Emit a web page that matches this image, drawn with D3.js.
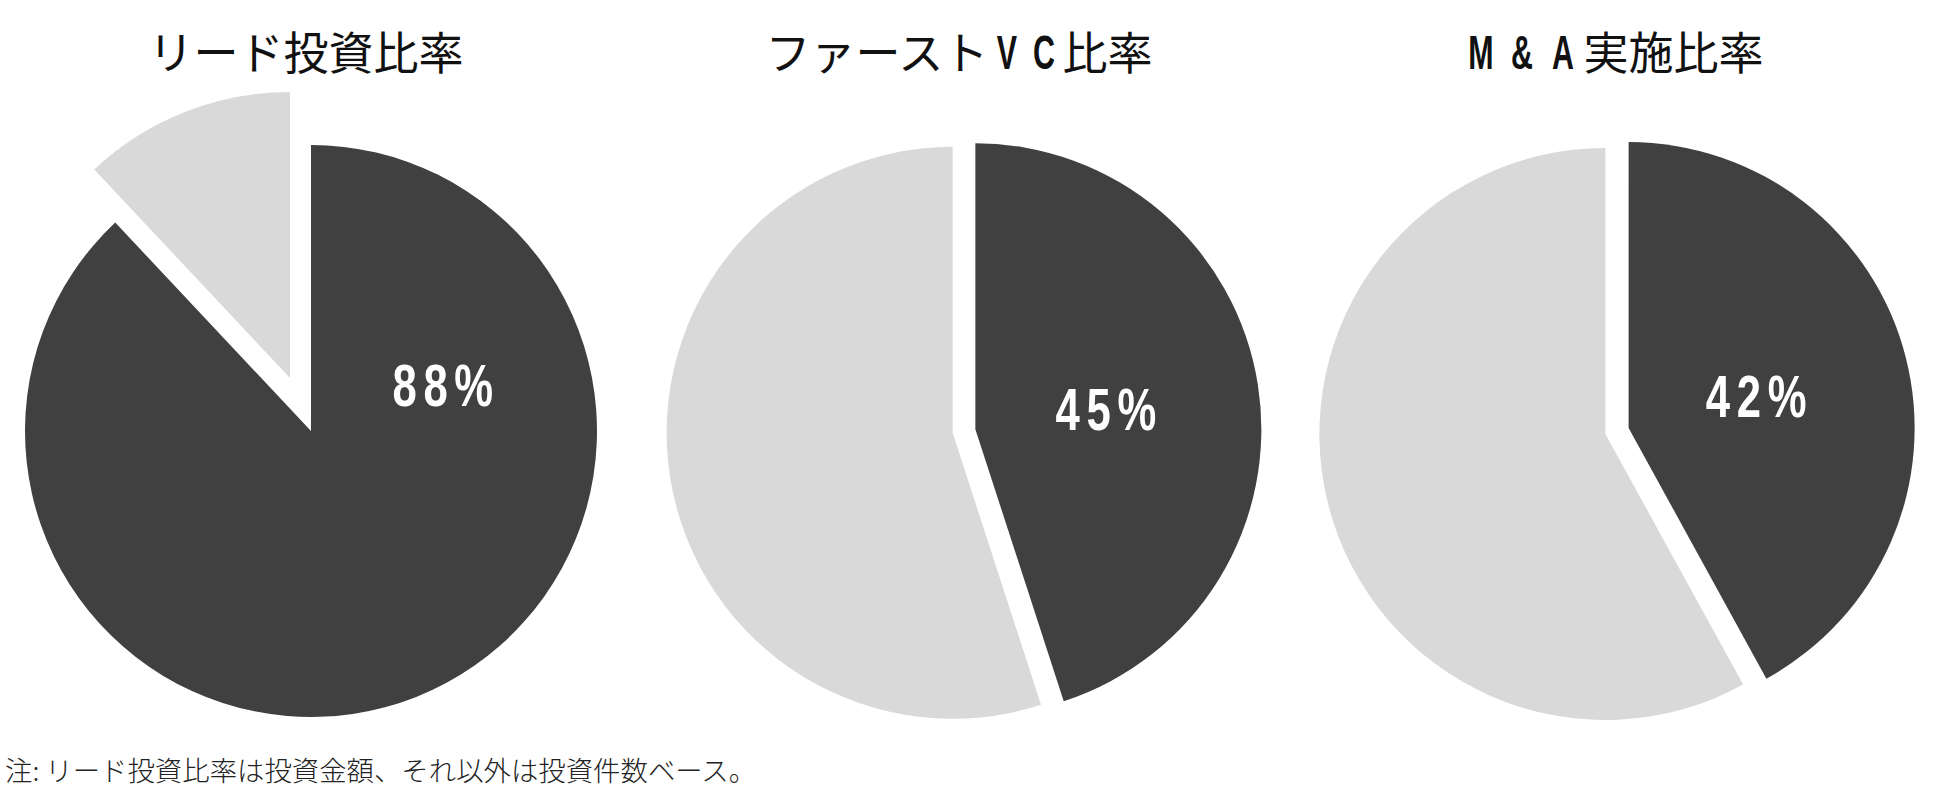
<!DOCTYPE html>
<html>
<head>
<meta charset="utf-8">
<script src="https://cdn.jsdelivr.net/npm/d3@7"></script>
<style>
  body { margin: 0; background: #fff; }
  .title-cjk { font-family: "Noto Sans CJK JP", sans-serif; font-size: 45px; fill: #111; }
  .title-latin { font-family: "Liberation Sans", Arial, sans-serif; font-weight: bold; font-size: 49px; fill: #111; }
  .pct-label { font-family: "Liberation Sans", Arial, sans-serif; font-weight: bold; font-size: 59px; letter-spacing: 9px; fill: #fff; }
  .note { font-family: "Noto Sans CJK JP", sans-serif; font-size: 27.4px; font-weight: 300; fill: #222; }
</style>
</head>
<body>
<div id="wrapper"></div>
<script>
// 1. Data
const chartTitles = ["リード投資比率", "ファーストVC比率", "M&A実施比率"]
const shareValues = [88, 45, 42]   // dark slice (%)
const restValues = [12, 55, 58]    // light slice (%)
const noteText = "注: リード投資比率は投資金額、それ以外は投資件数ベース。"

// per chart styling: how far each slice is pulled out [dark, light]
const explode = [[0, 57], [11.5, 11.5], [12, 12]]
// chart 1 label was moved by hand in the original
const labelAngle = [70.6 * Math.PI / 180, null, null]
// width of a latin letter in each title
const latinSlot = [44, 37, 41]

const colors = ["#404040", "#d9d9d9"]

// 2. Dimensions
let dimensions = {
  width: 1950,
  height: 799,
  radius: 286,
  pieY: 431,
  titleY: 70,
  titleOffset: -5,
}

// 3. Draw canvas
const wrapper = d3.select("#wrapper")
  .append("svg")
  .attr("width", dimensions.width)
  .attr("height", dimensions.height)

// 4. Scales
const xScale = d3.scalePoint()
  .domain(chartTitles)
  .range([311, 1617])

const pie = d3.pie()
  .sort(null)
  .value(d => d)
  .startAngle(0)
  .endAngle(2 * Math.PI)

const arc = d3.arc()
  .innerRadius(0)
  .outerRadius(dimensions.radius)

// title: cjk runs in Noto, latin letters drawn narrow + bold
const drawTitle = (g, title, cx, slotW) => {
  const runs = title.match(/[A-Za-z&]+|[^A-Za-z&]+/g)
  const inner = g.append("g")
  let x = 0
  runs.forEach(run => {
    if (/[A-Za-z&]/.test(run)) {
      for (const ch of run) {
        inner.append("text")
          .attr("class", "title-latin")
          .attr("text-anchor", "middle")
          .attr("transform", `translate(${x + slotW / 2},-1) scale(0.62,1)`)
          .text(ch)
        x += slotW
      }
    } else {
      const t = inner.append("text")
        .attr("class", "title-cjk")
        .attr("x", x)
        .text(run)
      x += t.node().getComputedTextLength()
    }
  })
  inner.attr("transform", `translate(${cx - x / 2},${dimensions.titleY})`)
}

// 5. Draw data
chartTitles.forEach((title, i) => {
  const cx = xScale(title)
  const g = wrapper.append("g")
    .attr("transform", `translate(${cx},${dimensions.pieY})`)

  const slices = pie([shareValues[i], restValues[i]])

  g.selectAll("path")
    .data(slices)
    .enter()
    .append("path")
      .attr("d", arc)
      .attr("fill", (d, j) => colors[j])
      .attr("transform", (d, j) => {
        const mid = (d.startAngle + d.endAngle) / 2
        const k = explode[i][j]
        return `translate(${Math.sin(mid) * k},${-Math.cos(mid) * k})`
      })

  // label on dark slice
  let [lx, ly] = arc.centroid(slices[0])
  if (labelAngle[i] != null) {
    const dist = dimensions.radius * 0.486
    lx = Math.sin(labelAngle[i]) * dist
    ly = -Math.cos(labelAngle[i]) * dist
  }
  g.append("text")
    .attr("class", "pct-label")
    .attr("transform", `translate(${lx + 4},${ly}) scale(0.74,1)`)
    .attr("dy", "0.36em")
    .attr("text-anchor", "middle")
    .text(`${shareValues[i]}%`)

  // 6. Peripherals
  drawTitle(wrapper, title, cx + dimensions.titleOffset, latinSlot[i])
})

wrapper.append("text")
  .attr("class", "note")
  .attr("x", 5)
  .attr("y", 781)
  .text(noteText)
</script>
</body>
</html>
